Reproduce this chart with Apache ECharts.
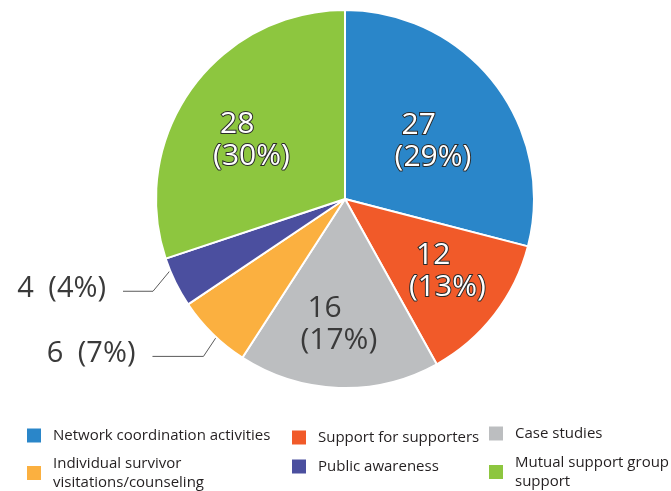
<!DOCTYPE html>
<html>
<head>
<meta charset="utf-8">
<script src="https://cdn.jsdelivr.net/npm/echarts@6/dist/echarts.min.js"></script>
<style>
  html, body { margin: 0; padding: 0; background: #ffffff; }
  #chart { width: 671px; height: 491px; }
</style>
</head>
<body>
<div id="chart"></div>
<script>
// Activity breakdown (count of activities per category)
const categories = [
  'Network coordination activities',
  'Support for supporters',
  'Case studies',
  'Individual survivor visitations/counseling',
  'Public awareness',
  'Mutual support group support'
];
const values = [27, 12, 16, 6, 4, 28];
const colors = ['#2a86c9', '#f15a29', '#bcbec0', '#fbb040', '#4b4f9f', '#8dc63f'];

// Legend wording with line breaks for the long entries
const legendText = {
  'Individual survivor visitations/counseling': 'Individual survivor\nvisitations/counseling',
  'Mutual support group support': 'Mutual support group\nsupport'
};

const FONT = '"Open Sans", "Noto Sans", sans-serif';
const CX = 345, CY = 199, R = 189;
const total = values.reduce((a, b) => a + b, 0);

// placement of the labels drawn inside slices:
// at = position across the slice (0..1), r = fraction of the radius
const innerLabelPos = {
  0: { at: 0.544, r: 0.56 },
  1: { at: 0.44, r: 0.665 },
  2: { at: 0.51, r: 0.662 },
  5: { at: 0.465, r: 0.58 }
};
// leader-line geometry for the labels drawn outside small slices
const outerLabels = {
  3: { anchorAt: 0.51, anchorR: 0.84, elbowAt: 0.39, elbowR: 1.12, run: 51 },
  4: { anchorAt: 0.79, anchorR: 0.98, elbowAt: 0.53, elbowR: 1.127, run: 30 }
};

function polar(idx, at, frac) {
  let start = 0;
  for (let i = 0; i < idx; i++) start += values[i];
  const a = (start + at * values[idx]) / total * Math.PI * 2;
  return [CX + frac * R * Math.sin(a), CY - frac * R * Math.cos(a)];
}

const whiteLabel = {
  color: '#ffffff', textBorderColor: '#2b2b2b', textBorderWidth: 2
};

const pieData = categories.map((name, i) => {
  const item = { name: name, value: values[i], itemStyle: { color: colors[i] } };
  if (outerLabels[i]) {
    item.label = {
      position: 'outside',
      formatter: '{c}\u2002({d}%)',
      color: '#3a3a3a',
      fontSize: 29,
      fontFamily: FONT
    };
    item.labelLine = { show: true, lineStyle: { color: '#5a5a5a', width: 1 } };
  } else {
    const base = i === 2 ? { color: '#3a3a3a', textBorderWidth: 0 } : whiteLabel;
    item.label = Object.assign({
      position: 'inside',
      formatter: '{a|{c}}\n{b|({d}%)}',
      fontSize: 30,
      lineHeight: 32,
      fontFamily: FONT,
      rich: {
        a: { width: 71, align: 'left', padding: [0, 0, 0, 7] },
        b: { width: 78, align: 'left' }
      }
    }, base);
    item.labelLine = { show: false };
  }
  return item;
});

// legend entries placed in three columns of two rows
const legendSlots = [
  { idx: 0, left: 25, top: 426 },
  { idx: 3, left: 25, top: 454 },
  { idx: 1, left: 290, top: 428 },
  { idx: 4, left: 290, top: 457 },
  { idx: 2, left: 487, top: 424 },
  { idx: 5, left: 487, top: 453 }
];

const legends = legendSlots.map(s => ({
  data: [categories[s.idx]],
  left: s.left,
  top: s.top,
  padding: 0,
  orient: 'vertical',
  icon: 'rect',
  itemWidth: 16,
  itemHeight: 16,
  selectedMode: false,
  formatter: name => legendText[name] || name,
  textStyle: {
    fontFamily: FONT,
    fontSize: 15,
    lineHeight: 19,
    color: '#231f20',
    padding: [0, 0, 0, 6]
  }
}));

const chart = echarts.init(document.getElementById('chart'), null, { renderer: 'canvas' });
chart.setOption({
  backgroundColor: '#ffffff',
  animation: false,
  legend: legends,
  series: [{
    type: 'pie',
    center: [CX, CY],
    radius: [0, R],
    startAngle: 90,
    clockwise: true,
    percentPrecision: 0,
    avoidLabelOverlap: false,
    itemStyle: { borderColor: '#ffffff', borderWidth: 2 },
    emphasis: { disabled: true },
    data: pieData,
    labelLayout: function (params) {
      const i = params.dataIndex;
      if (outerLabels[i]) {
        const o = outerLabels[i];
        const p0 = polar(i, o.anchorAt, o.anchorR);
        const p1 = polar(i, o.elbowAt, o.elbowR);
        const p2 = [p1[0] - o.run, p1[1]];
        return {
          x: p2[0] - 17,
          y: p2[1] - 3,
          align: 'right',
          verticalAlign: 'middle',
          labelLinePoints: [p0, p1, p2]
        };
      }
      const pos = innerLabelPos[i];
      const p = polar(i, pos.at, pos.r);
      return { x: p[0], y: p[1], align: 'center', verticalAlign: 'middle' };
    }
  }]
});
</script>
</body>
</html>
